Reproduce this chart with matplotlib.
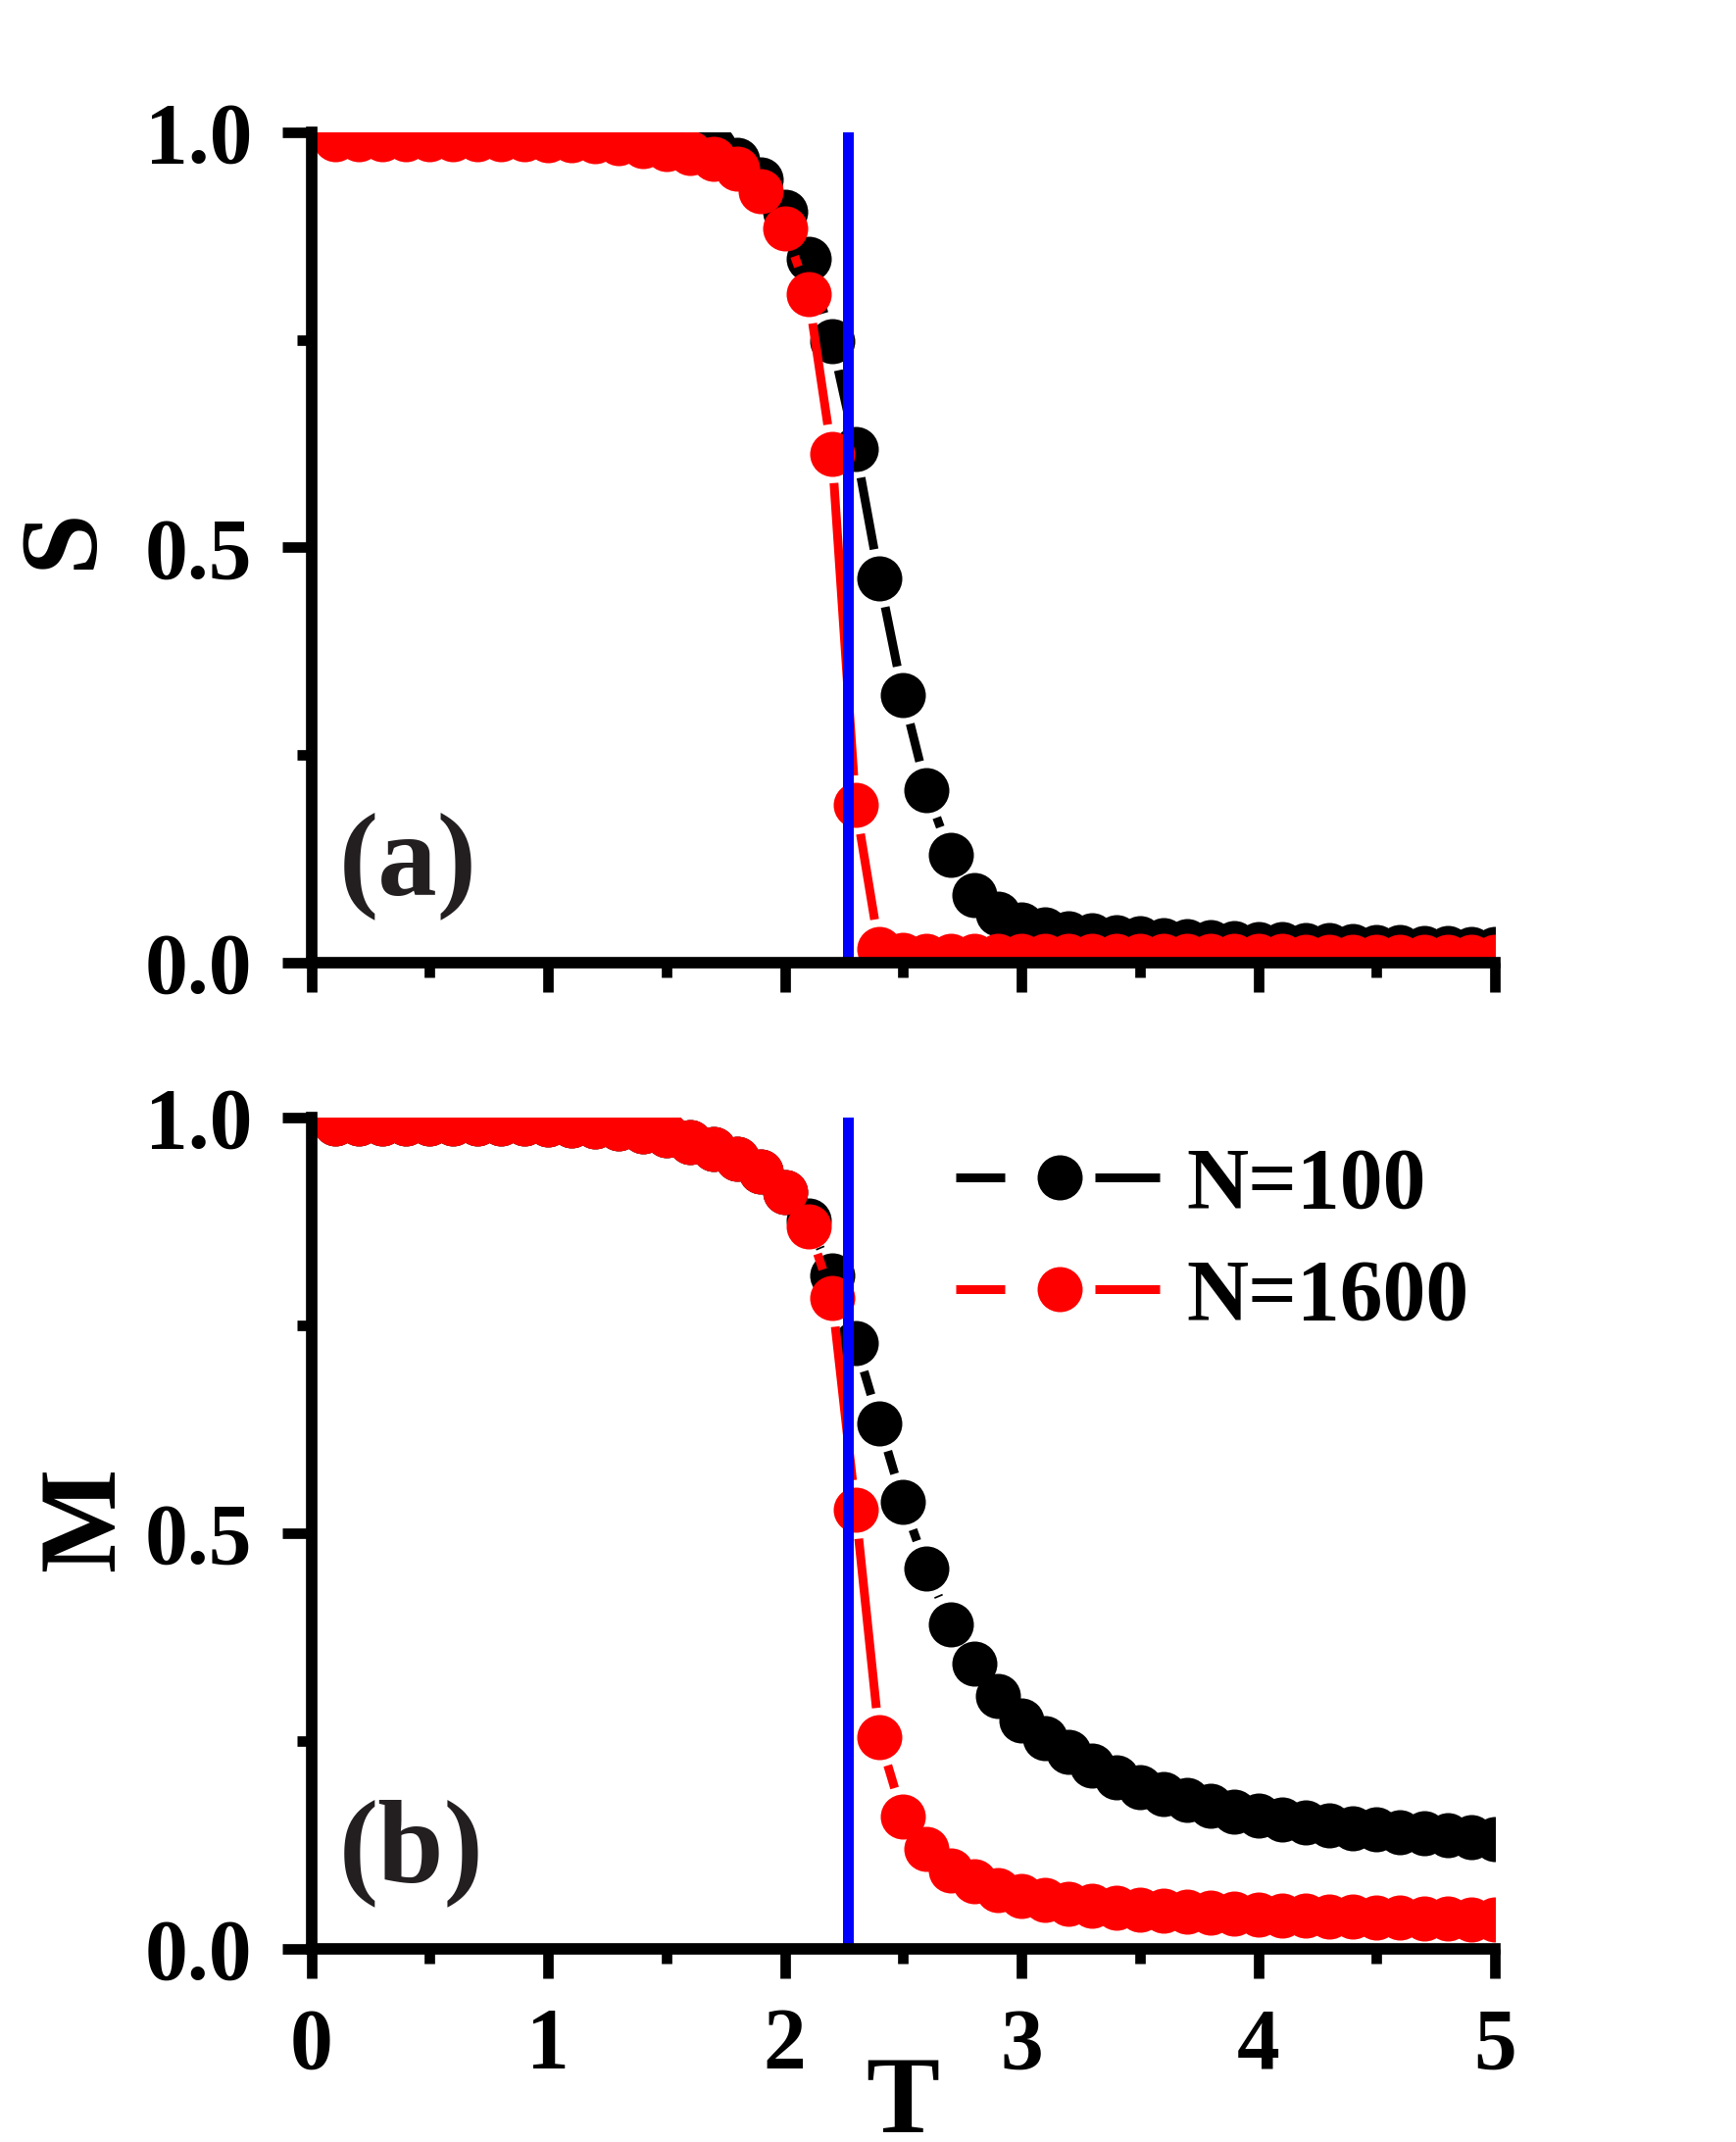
import matplotlib
matplotlib.use('Agg')
import matplotlib.pyplot as plt
import numpy as np
from matplotlib.lines import Line2D
from matplotlib.ticker import MultipleLocator, FormatStrFormatter

plt.rcParams['font.family'] = 'Liberation Serif'
plt.rcParams['font.weight'] = 'bold'
plt.rcParams['axes.labelweight'] = 'bold'

# ---- data ----
T = [0.1, 0.2, 0.3, 0.4, 0.5, 0.6, 0.7, 0.8, 0.9, 1.0,
     1.1, 1.2, 1.3, 1.4, 1.5, 1.6, 1.7, 1.8, 1.9, 2.0,
     2.1, 2.2, 2.3, 2.4, 2.5, 2.6, 2.7, 2.8, 2.9, 3.0,
     3.1, 3.2, 3.3, 3.4, 3.5, 3.6, 3.7, 3.8, 3.9, 4.0,
     4.1, 4.2, 4.3, 4.4, 4.5, 4.6, 4.7, 4.8, 4.9, 5.0]

S_100 = [0.995, 0.995, 0.995, 0.995, 0.995, 0.995, 0.995, 0.995, 0.995, 0.995,
         0.995, 0.995, 0.995, 0.995, 0.995, 0.990, 0.982, 0.967, 0.943, 0.904,
         0.848, 0.748, 0.619, 0.463, 0.322, 0.208, 0.130, 0.081, 0.059, 0.046,
         0.040, 0.036, 0.033, 0.031, 0.029, 0.027, 0.026, 0.025, 0.024, 0.023,
         0.022, 0.021, 0.021, 0.020, 0.019, 0.019, 0.018, 0.018, 0.017, 0.017]

S_1600 = [0.992, 0.992, 0.992, 0.992, 0.992, 0.992, 0.992, 0.992, 0.992, 0.991,
          0.990, 0.989, 0.987, 0.984, 0.980, 0.975, 0.968, 0.956, 0.929, 0.884,
          0.805, 0.613, 0.190, 0.017, 0.009, 0.008, 0.008, 0.008, 0.008, 0.008,
          0.008, 0.008, 0.008, 0.008, 0.008, 0.008, 0.008, 0.008, 0.008, 0.008,
          0.008, 0.007, 0.007, 0.007, 0.007, 0.007, 0.007, 0.007, 0.007, 0.007]

M_100 = [0.992, 0.992, 0.992, 0.992, 0.992, 0.992, 0.992, 0.992, 0.992, 0.991,
         0.990, 0.989, 0.987, 0.983, 0.978, 0.970, 0.962, 0.950, 0.935, 0.910,
         0.876, 0.809, 0.728, 0.632, 0.537, 0.457, 0.390, 0.342, 0.304, 0.274,
         0.253, 0.237, 0.220, 0.206, 0.194, 0.186, 0.179, 0.172, 0.165, 0.160,
         0.155, 0.152, 0.148, 0.145, 0.143, 0.140, 0.138, 0.136, 0.134, 0.131]

M_1600 = [0.992, 0.992, 0.992, 0.992, 0.992, 0.992, 0.992, 0.992, 0.992, 0.991,
          0.990, 0.989, 0.987, 0.983, 0.978, 0.970, 0.962, 0.950, 0.935, 0.910,
          0.869, 0.783, 0.528, 0.254, 0.159, 0.120, 0.094, 0.081, 0.070, 0.063,
          0.058, 0.054, 0.051, 0.049, 0.047, 0.045, 0.044, 0.043, 0.042, 0.041,
          0.040, 0.039, 0.038, 0.038, 0.037, 0.037, 0.036, 0.036, 0.035, 0.035]

Tc = 2.269
labels = ['N=100', 'N=1600']
colors = ['black', '#ff0000']

# ---- figure in pixel units ----
W, H, DPI = 1771, 2185, 300
PT = 72.0 / DPI          # points per pixel

fig = plt.figure(figsize=(W / DPI, H / DPI), dpi=DPI)


def px_axes(l, r, t, b):
    return fig.add_axes([l / W, 1 - b / H, (r - l) / W, (b - t) / H])


ax1 = px_axes(317.5, 1525, 135, 982)
ax2 = px_axes(317.5, 1525, 1139.5, 1987.5)

LW = 9 * PT
MS = 46 * PT
TRIM = 30   # px cut off the line at each marker (radius + white gap)


def gapped_line(ax, x, y, color, z):
    # Origin style: straight pieces between points, stopping short of each marker
    pts = ax.transData.transform(np.column_stack([x, y]))
    inv = ax.transData.inverted()
    for (x0, y0), (x1, y1) in zip(pts[:-1], pts[1:]):
        d = np.hypot(x1 - x0, y1 - y0)
        if d <= 2 * TRIM:
            continue
        ux, uy = (x1 - x0) / d, (y1 - y0) / d
        seg = inv.transform([(x0 + ux * TRIM, y0 + uy * TRIM),
                             (x1 - ux * TRIM, y1 - uy * TRIM)])
        ax.plot(seg[:, 0], seg[:, 1], color=color, lw=LW,
                solid_capstyle='butt', zorder=z)


for ax in (ax1, ax2):
    ax.set_xlim(0, 5)
    ax.set_ylim(0, 1)
    ax.spines['top'].set_visible(False)
    ax.spines['right'].set_visible(False)
    for s in ('left', 'bottom'):
        ax.spines[s].set_linewidth(11.7 * PT)
        ax.spines[s].set_zorder(6)
    ax.xaxis.set_major_locator(MultipleLocator(1))
    ax.xaxis.set_minor_locator(MultipleLocator(0.5))
    ax.yaxis.set_major_locator(MultipleLocator(0.5))
    ax.yaxis.set_minor_locator(MultipleLocator(0.25))
    ax.tick_params(which='major', direction='out', length=30 * PT,
                   width=10.7 * PT, labelsize=21, pad=7.2)
    ax.tick_params(which='minor', direction='out', length=15 * PT,
                   width=10.7 * PT)
    ax.yaxis.set_major_formatter(FormatStrFormatter('%.1f'))

ax1.tick_params(axis='x', which='both', labelbottom=False)

panels = [(ax1, S_100, S_1600), (ax2, M_100, M_1600)]
for ax, y_small, y_big in panels:
    gapped_line(ax, T, y_small, colors[0], 2.0)
    ax.plot(T, y_small, ls='none', marker='o', ms=MS, mew=0,
            color=colors[0], zorder=2.1)
    gapped_line(ax, T, y_big, colors[1], 2.2)
    ax.plot(T, y_big, ls='none', marker='o', ms=MS, mew=0,
            color=colors[1], zorder=2.3)
    ax.axvline(Tc, color='#0000ff', lw=11 * PT, zorder=5)

# axis labels
ax1.set_ylabel('S', fontsize=27, fontweight='bold')
ax1.yaxis.set_label_coords(-0.166, 0.51)
ax2.set_ylabel('M', fontsize=27, fontweight='bold')
ax2.yaxis.set_label_coords(-0.147, 0.516)
ax2.set_xlabel('T', fontsize=27, fontweight='bold')
ax2.xaxis.set_label_coords(0.5, -0.129)

# panel tags
ax1.text(0.023, 0.0815, '(a)', transform=ax1.transAxes, fontsize=29,
         color='#231f20', ha='left', va='baseline')
ax2.text(0.023, 0.080, '(b)', transform=ax2.transAxes, fontsize=29,
         color='#231f20', ha='left', va='baseline')

# legend: dash, marker, dash
handles = []
for c in colors:
    h = Line2D([], [], color=c, lw=LW, marker='o', ms=MS, mew=0,
               solid_capstyle='butt', dash_capstyle='butt')
    h.set_dashes([50 / 9, 92 / 9, 66 / 9, 20])
    handles.append(h)
ax2.legend(handles, labels, loc='upper left',
           bbox_to_anchor=(975 / W, 1 - 1170 / H), bbox_transform=fig.transFigure,
           frameon=False, borderpad=0, borderaxespad=0, numpoints=1,
           handlelength=2.42, handletextpad=0.27, labelspacing=0.37,
           prop={'family': 'Liberation Serif', 'weight': 'bold', 'size': 21})

fig.savefig('out.png', dpi=DPI)
